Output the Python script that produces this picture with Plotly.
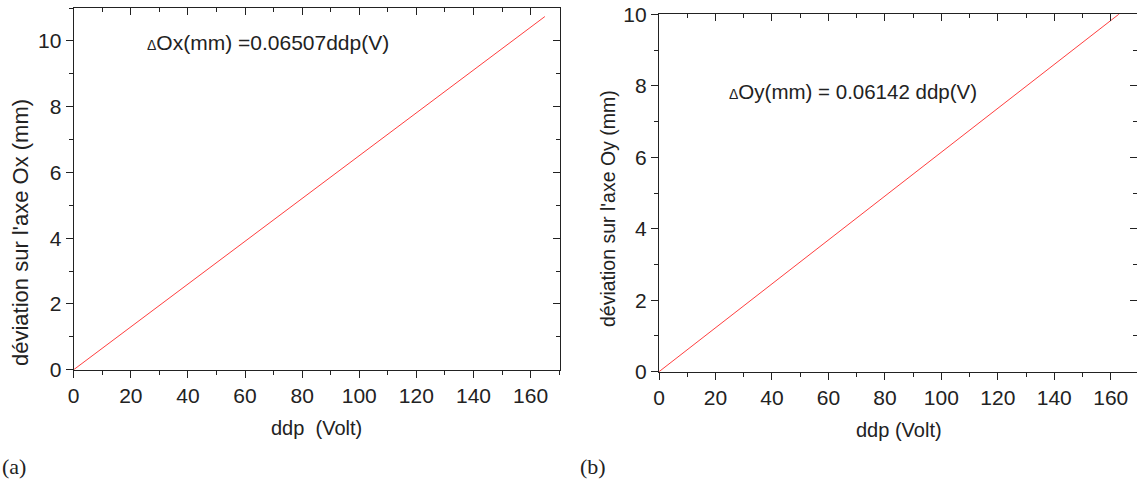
import plotly.graph_objects as go

# Data
ddp_a = [0, 165]
dev_x = [0, 10.74]
ddp_b = [0, 163]
dev_y = [0, 10.01]

xticks = [0, 20, 40, 60, 80, 100, 120, 140, 160]
label_a = "<span style='font-size:14px'>Δ</span>Ox(mm) =0.06507ddp(V)"
label_b = "<span style='font-size:14px'>Δ</span>Oy(mm) = 0.06142 ddp(V)"

W, H = 1137, 488
FONT = "Liberation Sans, Arial, sans-serif"
INK = "#222222"

def px(x):
    return x / W

def py(y):
    return 1 - y / H

fig = go.Figure()
line_style = dict(color="rgb(255,40,40)", width=0.9)
fig.add_trace(go.Scatter(x=ddp_a, y=dev_x, mode="lines", line=line_style,
                         xaxis="x", yaxis="y", showlegend=False, hoverinfo="skip"))
fig.add_trace(go.Scatter(x=ddp_a, y=dev_x, mode="none", xaxis="x2", yaxis="y2",
                         showlegend=False, hoverinfo="skip"))
fig.add_trace(go.Scatter(x=ddp_b, y=dev_y, mode="lines", line=line_style,
                         xaxis="x3", yaxis="y3", showlegend=False, hoverinfo="skip"))
fig.add_trace(go.Scatter(x=ddp_b, y=dev_y, mode="none", xaxis="x4", yaxis="y4",
                         showlegend=False, hoverinfo="skip"))

common = dict(showgrid=False, zeroline=False, linecolor=INK, linewidth=1.3,
              tickcolor=INK, tickwidth=1.3, automargin=False,
              tickfont=dict(family=FONT, size=21, color=INK))

def xax(domain, rng, anchor, side="bottom", overlay=None, showline=True):
    d = dict(common)
    d.update(domain=domain, range=rng, anchor=anchor, side=side,
             tickmode="array", tickvals=xticks, showline=showline,
             ticks="outside" if side == "bottom" else "inside", ticklen=7,
             minor=dict(dtick=10, tick0=0, ticklen=4, tickcolor=INK, tickwidth=1.3,
                        ticks="outside" if side == "bottom" else "inside"),
             showticklabels=(side == "bottom"))
    if overlay:
        d["overlaying"] = overlay
    return d

def yax(domain, rng, anchor, side="left", overlay=None, showline=True):
    d = dict(common)
    d.update(domain=domain, range=rng, anchor=anchor, side=side,
             dtick=2, tick0=0, showline=showline,
             ticks="outside" if side == "left" else "inside", ticklen=7,
             minor=dict(dtick=1, tick0=0, ticklen=4, tickcolor=INK, tickwidth=1.3,
                        ticks="outside" if side == "left" else "inside"),
             showticklabels=(side == "left"))
    if overlay:
        d["overlaying"] = overlay
    return d

xa_dom = [px(73.7), px(560)]
ya_dom = [py(369.7), py(8)]
xb_dom = [px(659), 1.0]
yb_dom = [py(371.7), py(14.3)]

fig.update_layout(
    width=W, height=H,
    margin=dict(l=0, r=0, t=0, b=0, autoexpand=False),
    paper_bgcolor="white", plot_bgcolor="rgba(0,0,0,0)",
    xaxis=xax(xa_dom, [0, 170.3], "y"),
    yaxis=yax(ya_dom, [0, 11], "x"),
    xaxis2=xax(xa_dom, [0, 170.3], "y2", side="top", overlay="x"),
    yaxis2=yax(ya_dom, [0, 11], "x2", side="right", overlay="y"),
    xaxis3=xax(xb_dom, [0, 169.3], "y3"),
    yaxis3=yax(yb_dom, [0, 10], "x3"),
    xaxis4=xax(xb_dom, [0, 169.3], "y4", side="top", overlay="x3"),
    yaxis4=yax(yb_dom, [0, 10], "x4", side="right", overlay="y3", showline=False),
)

ann = []
def add(text, x, y, size, xanchor="center", angle=0, family=FONT):
    ann.append(dict(text=text, x=px(x), y=py(y), xref="paper", yref="paper",
                    xanchor=xanchor, yanchor="middle", showarrow=False,
                    textangle=angle, font=dict(family=family, size=size, color=INK)))

add(label_a, 145, 42, 21, xanchor="left")
add(label_b, 727, 91, 20.5, xanchor="left")
add("ddp  (Volt)", 316, 428, 20)
add("ddp (Volt)", 899, 430, 20)
add("déviation sur l'axe Ox (mm)", 20, 233, 22, angle=-90)
add("déviation sur l'axe Oy (mm)", 608, 209, 19.5, angle=-90)
add("(a)", 0, 466, 22, xanchor="left", family="Liberation Serif, serif")
add("(b)", 578, 466, 22, xanchor="left", family="Liberation Serif, serif")
fig.update_layout(annotations=ann)

fig.write_html("out.html", config={"displayModeBar": False},
               post_script="document.body.style.margin='0';document.body.style.overflow='hidden';")
